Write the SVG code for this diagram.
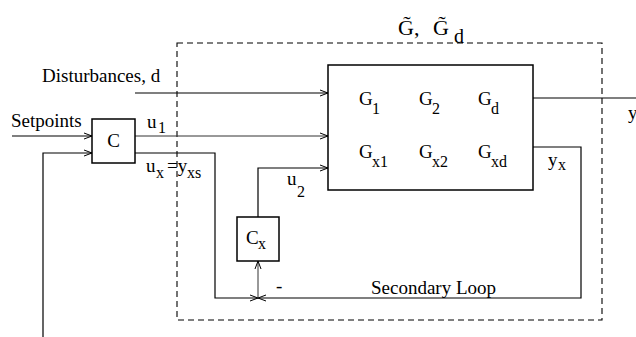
<svg xmlns="http://www.w3.org/2000/svg" width="636" height="337" viewBox="0 0 636 337">
<defs>
<marker id="arr" markerWidth="10" markerHeight="8" refX="8" refY="4" orient="auto" markerUnits="userSpaceOnUse">
<path d="M0,1 L8,4 L0,7" fill="none" stroke="#000" stroke-width="1"/>
</marker>
<style>
text{font-family:"Liberation Serif","Times New Roman",serif;fill:#000;font-size:19px}
.sub{font-size:16px}
.box{fill:#fff;stroke:#000;stroke-width:1.5}
.ln{fill:none;stroke:#000;stroke-width:1.2}
.thin{fill:none;stroke:#333;stroke-width:1}
.dash{fill:none;stroke:#000;stroke-width:1.1;stroke-dasharray:6 4}
.ttl{font-size:22px}
</style>
</defs>
<rect width="636" height="337" fill="#fff"/>

<g id="plant-boundary">
<rect class="dash" x="177" y="43" width="425" height="277"/>
<text class="ttl" x="398" y="35">G̃</text>
<text class="ttl" x="414" y="35">,</text>
<text class="ttl" x="433" y="35">G̃</text>
<text x="454" y="43" style="font-size:20px">d</text>
</g>

<g id="connectors">
<path class="ln" d="M12,136 H92" marker-end="url(#arr)"/>
<path class="ln" d="M43,337 V153 H92" marker-end="url(#arr)"/>
<path class="ln" d="M135,93 H328" marker-end="url(#arr)"/>
<path class="thin" d="M135,136 H328" marker-end="url(#arr)"/>
<path class="ln" d="M258,217 V168 H328" marker-end="url(#arr)"/>
<path class="ln" d="M135,153 H215 V298 H258" marker-end="url(#arr)"/>
<path class="ln" d="M533,147 H581 V298 H258" marker-end="url(#arr)"/>
<path class="thin" d="M258,298 V261" marker-end="url(#arr)"/>
<path class="ln" d="M533,98 H636"/>
</g>

<g id="labels">
<text x="11" y="127">Setpoints</text>
<text x="42" y="82">Disturbances, d</text>
<text x="147" y="128">u</text>
<text class="sub" x="158" y="133">1</text>
<text x="146" y="172">u</text>
<text class="sub" x="156" y="178">x</text>
<text x="167" y="172">=y</text>
<text class="sub" x="187" y="178">xs</text>
<text x="287" y="185">u</text>
<text class="sub" x="297" y="197">2</text>
<text x="628" y="119">y</text>
<text x="548" y="166">y</text>
<text class="sub" x="558" y="170">x</text>
<text x="371" y="294">Secondary Loop</text>
<text x="276" y="292">-</text>
</g>

<g id="C">
<rect class="box" x="92" y="119" width="43" height="44"/>
<text x="113.5" y="147" text-anchor="middle">C</text>
</g>

<g id="Cx">
<rect class="box" x="237" y="217" width="42" height="44"/>
<text x="246" y="244">C</text>
<text class="sub" x="258" y="249">x</text>
</g>

<g id="G">
<rect class="box" x="328" y="65" width="205" height="125"/>
<text x="359" y="105">G</text><text class="sub" x="372" y="114">1</text>
<text x="419" y="105">G</text><text class="sub" x="432" y="114">2</text>
<text x="478" y="105">G</text><text class="sub" x="491" y="114">d</text>
<text x="359" y="158">G</text><text class="sub" x="372" y="167">x1</text>
<text x="419" y="158">G</text><text class="sub" x="432" y="167">x2</text>
<text x="478" y="158">G</text><text class="sub" x="491" y="167">xd</text>
</g>
</svg>
